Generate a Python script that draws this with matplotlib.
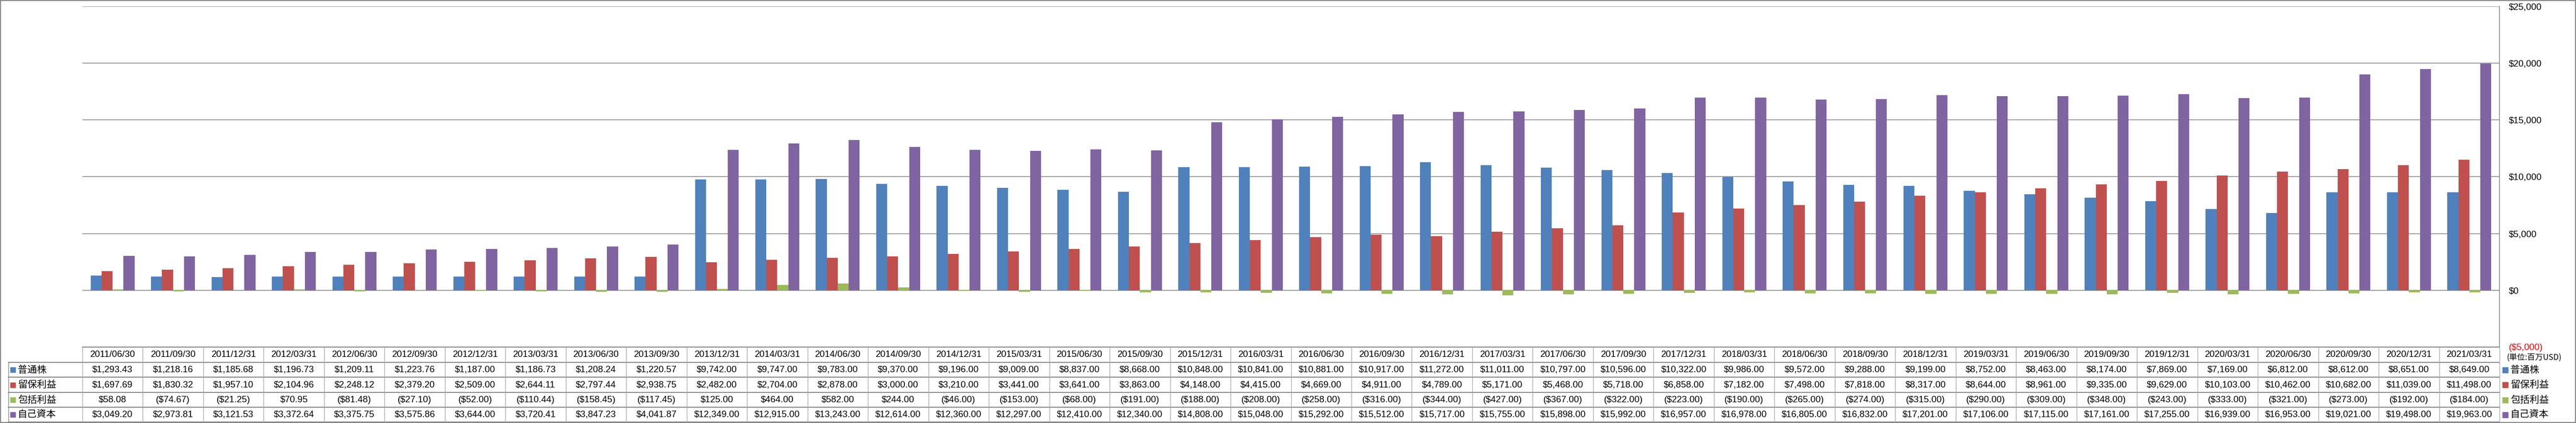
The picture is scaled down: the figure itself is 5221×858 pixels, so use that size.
import numpy as np
import matplotlib
matplotlib.use("Agg")
import matplotlib.pyplot as plt
from matplotlib.patches import Rectangle

# quarter-end dates
dates = ["2011/06/30", "2011/09/30", "2011/12/31", "2012/03/31", "2012/06/30",
         "2012/09/30", "2012/12/31", "2013/03/31", "2013/06/30", "2013/09/30",
         "2013/12/31", "2014/03/31", "2014/06/30", "2014/09/30", "2014/12/31",
         "2015/03/31", "2015/06/30", "2015/09/30", "2015/12/31", "2016/03/31",
         "2016/06/30", "2016/09/30", "2016/12/31", "2017/03/31", "2017/06/30",
         "2017/09/30", "2017/12/31", "2018/03/31", "2018/06/30", "2018/09/30",
         "2018/12/31", "2019/03/31", "2019/06/30", "2019/09/30", "2019/12/31",
         "2020/03/31", "2020/06/30", "2020/09/30", "2020/12/31", "2021/03/31"]

common_stock = [1293.43, 1218.16, 1185.68, 1196.73, 1209.11, 1223.76, 1187.00, 1186.73, 1208.24, 1220.57,
                9742, 9747, 9783, 9370, 9196, 9009, 8837, 8668, 10848, 10841,
                10881, 10917, 11272, 11011, 10797, 10596, 10322, 9986, 9572, 9288,
                9199, 8752, 8463, 8174, 7869, 7169, 6812, 8612, 8651, 8649]
retained = [1697.69, 1830.32, 1957.10, 2104.96, 2248.12, 2379.20, 2509.00, 2644.11, 2797.44, 2938.75,
            2482, 2704, 2878, 3000, 3210, 3441, 3641, 3863, 4148, 4415,
            4669, 4911, 4789, 5171, 5468, 5718, 6858, 7182, 7498, 7818,
            8317, 8644, 8961, 9335, 9629, 10103, 10462, 10682, 11039, 11498]
comprehensive = [58.08, -74.67, -21.25, 70.95, -81.48, -27.10, -52.00, -110.44, -158.45, -117.45,
                 125, 464, 582, 244, -46, -153, -68, -191, -188, -208,
                 -258, -316, -344, -427, -367, -322, -223, -190, -265, -274,
                 -315, -290, -309, -348, -243, -333, -321, -273, -192, -184]
equity = [3049.20, 2973.81, 3121.53, 3372.64, 3375.75, 3575.86, 3644.00, 3720.41, 3847.23, 4041.87,
          12349, 12915, 13243, 12614, 12360, 12297, 12410, 12340, 14808, 15048,
          15292, 15512, 15717, 15755, 15898, 15992, 16957, 16978, 16805, 16832,
          17201, 17106, 17115, 17161, 17255, 16939, 16953, 19021, 19498, 19963]

names = ["普通株", "留保利益", "包括利益", "自己資本"]
colors = ["#4F81BD", "#C0504D", "#9BBB59", "#8064A2"]
series = [common_stock, retained, comprehensive, equity]

W, H = 5221, 858
jp = ["Noto Sans CJK JP", "DejaVu Sans"]
num_font = "Liberation Sans"
gray = "#868686"

def money(v):
    if v < 0:
        return "(${:,.2f})".format(-v)
    return "${:,.2f}".format(v)

fig = plt.figure(figsize=(W / 100, H / 100), dpi=100)

# plot area (pixel layout)
L, R, T, B = 167, 5066, 13, 704
ax = fig.add_axes([L / W, 1 - B / H, (R - L) / W, (B - T) / H])

n = len(dates)
x = np.arange(n)
bw = 0.1816
for k in range(4):
    ax.bar(x + (k - 1.5) * bw, series[k], width=bw, color=colors[k], linewidth=0, zorder=3)

ax.set_xlim(-0.5, n - 0.5)
ax.set_ylim(-5000, 25000)
ticks = list(range(-5000, 25001, 5000))
ax.set_yticks(ticks)
ax.set_yticklabels(["(${:,})".format(-t) if t < 0 else "${:,}".format(t) for t in ticks],
                   fontfamily=num_font, fontsize=13.3)
ax.yaxis.tick_right()
ax.tick_params(axis="y", length=0, pad=13.5)
ax.get_yticklabels()[0].set_color("red")
ax.set_xticks([])
for sp in ["left", "top", "bottom"]:
    ax.spines[sp].set_visible(False)
ax.spines["right"].set_color(gray)
ax.spines["right"].set_linewidth(1.1)
for t in ticks[1:]:
    ax.axhline(t, color=gray, lw=1.1, zorder=1)

# data table and legends drawn in pixel space
tax = fig.add_axes([0, 0, 1, 1])
tax.set_xlim(0, W)
tax.set_ylim(H, 0)
tax.axis("off")

colw = (R - L) / n
edges = [L + i * colw for i in range(n + 1)]
rows = [704, 735, 765, 796, 826, 856]

tax.plot([L, R], [rows[0], rows[0]], color=gray, lw=1.4)
for yv in rows[1:]:
    tax.plot([17, R], [yv, yv], color=gray, lw=1.4)
tax.plot([17, 17], [rows[1], rows[-1]], color=gray, lw=1.0)
for xe in edges:
    tax.plot([xe, xe], [rows[0], rows[-1]], color="#A6A6A6", lw=0.9)

for i, d in enumerate(dates):
    cx = (edges[i] + edges[i + 1]) / 2
    tax.text(cx, (rows[0] + rows[1]) / 2, d, ha="center", va="center",
             fontfamily=num_font, fontsize=13.3)
    for k in range(4):
        cy = (rows[k + 1] + rows[k + 2]) / 2
        tax.text(cx, cy, money(series[k][i]), ha="center", va="center",
                 fontfamily=num_font, fontsize=13.3)

for k in range(4):
    cy = (rows[k + 1] + rows[k + 2]) / 2
    tax.add_patch(Rectangle((21, cy - 5), 10, 10, color=colors[k]))
    tax.text(36, cy, names[k], ha="left", va="center", family=jp, fontsize=14)
    tax.add_patch(Rectangle((5072, cy - 5.5), 11, 11, color=colors[k]))
    tax.text(5088, cy, names[k], ha="left", va="center", family=jp, fontsize=14)

tax.text(5080, 726, "(単位:百万USD)", ha="left", va="center", family=jp, fontsize=11.5)

# outer chart border
tax.add_patch(Rectangle((1, 1), W - 2, H - 2, fill=False, edgecolor=gray, lw=1.4))

fig.savefig("out.png", dpi=100)
